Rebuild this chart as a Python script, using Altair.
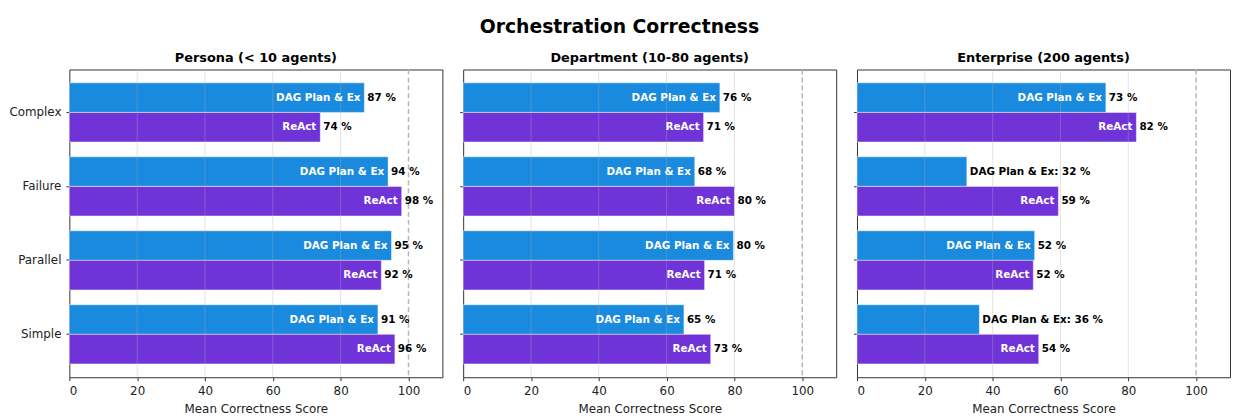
import altair as alt
import pandas as pd

# ---- data ----
categories = ["Complex", "Failure", "Parallel", "Simple"]
methods = ["DAG Plan & Ex", "ReAct"]
panel_titles = ["Persona (< 10 agents)", "Department (10-80 agents)", "Enterprise (200 agents)"]

persona_dag = [87, 94, 95, 91]
persona_react = [74, 98, 92, 96]
department_dag = [75.7, 68.3, 79.7, 65.1]
department_react = [70.9, 80.0, 71.2, 73.0]
enterprise_dag = [73.4, 32.4, 52.4, 36.1]
enterprise_react = [82.4, 59.4, 52.0, 53.6]

x_ticks = [0, 20, 40, 60, 80, 100]
grid_values = [20, 40, 60, 80]
reference_value = [100]
colors = ["#1a8ade", "#7033d8"]
FONT = "DejaVu Sans"


def make_df(dag, react):
    rows = []
    for cat, d, r in zip(categories, dag, react):
        for m, v in zip(methods, [d, r]):
            inside = v >= 40
            label = f"{v:.0f} %" if inside else f"{m}: {v:.0f} %"
            rows.append({"category": cat, "method": m, "value": v,
                         "inside": inside, "value_label": label})
    return pd.DataFrame(rows)


def panel(title, dag, react, first):
    df = make_df(dag, react)
    x = alt.X("value:Q", scale=alt.Scale(domain=[0, 110], nice=False, zero=True),
              axis=alt.Axis(values=x_ticks, title="Mean Correctness Score", grid=False,
                            format="d"))
    y = alt.Y("category:N", sort=categories,
              scale=alt.Scale(paddingInner=0.2, paddingOuter=0.18),
              axis=alt.Axis(title=None, labels=first, grid=False,
                            minExtent=61 if first else 4,
                            maxExtent=61 if first else 4))
    yoff = alt.YOffset("method:N", sort=methods,
                       scale=alt.Scale(paddingInner=0, paddingOuter=0))
    bars = alt.Chart(df).mark_bar(stroke="white", strokeWidth=0.8, strokeOpacity=0.6).encode(
        x=x, y=y, yOffset=yoff,
        color=alt.Color("method:N", scale=alt.Scale(domain=methods, range=colors), legend=None),
    )
    grid = alt.Chart(pd.DataFrame({"value": grid_values})).mark_rule(
        color="#b0b0b0", opacity=0.35, strokeWidth=1).encode(x=alt.X("value:Q"))
    ref = alt.Chart(pd.DataFrame({"value": reference_value})).mark_rule(
        color="#b5b5b5", strokeDash=[5, 3], strokeWidth=1.5).encode(x=alt.X("value:Q"))
    inside_text = alt.Chart(df).transform_filter(
        alt.FieldEqualPredicate(field="inside", equal=True)
    ).mark_text(align="right", baseline="middle", dx=-4, color="white",
                fontWeight="bold", fontSize=10.5, font=FONT).encode(
        x=x, y=y, yOffset=yoff, text="method:N")
    value_text = alt.Chart(df).mark_text(align="left", baseline="middle", dx=3, color="black",
                                         fontWeight="bold", fontSize=10.5, font=FONT).encode(
        x=x, y=y, yOffset=yoff, text="value_label:N")
    return alt.layer(bars, grid, ref, inside_text, value_text).properties(
        width=377, height=311,
        title=alt.TitleParams(title, fontSize=13, fontWeight="bold", font=FONT, offset=4),
    )


p1 = panel(panel_titles[0], persona_dag, persona_react, True)
p2 = panel(panel_titles[1], department_dag, department_react, False)
p3 = panel(panel_titles[2], enterprise_dag, enterprise_react, False)

chart = alt.hconcat(p1, p2, p3, spacing=15).properties(
    title=alt.TitleParams("Orchestration Correctness", fontSize=19, fontWeight="bold",
                          font=FONT, anchor="middle", offset=15),
    padding={"left": 0, "top": 7, "right": 0, "bottom": 0},
).configure_view(
    stroke="#333333", strokeWidth=1
).configure_axis(
    domain=False, tickColor="#333333", tickSize=3.5, tickWidth=1,
    labelFont=FONT, labelFontSize=12, labelColor="#222222", labelPadding=5,
    titleFont=FONT, titleFontSize=12, titleFontWeight="normal", titleColor="#222222",
    titlePadding=7,
).configure_title(color="black")

chart.save("out.html", embed_options={"renderer": "svg", "actions": False})
